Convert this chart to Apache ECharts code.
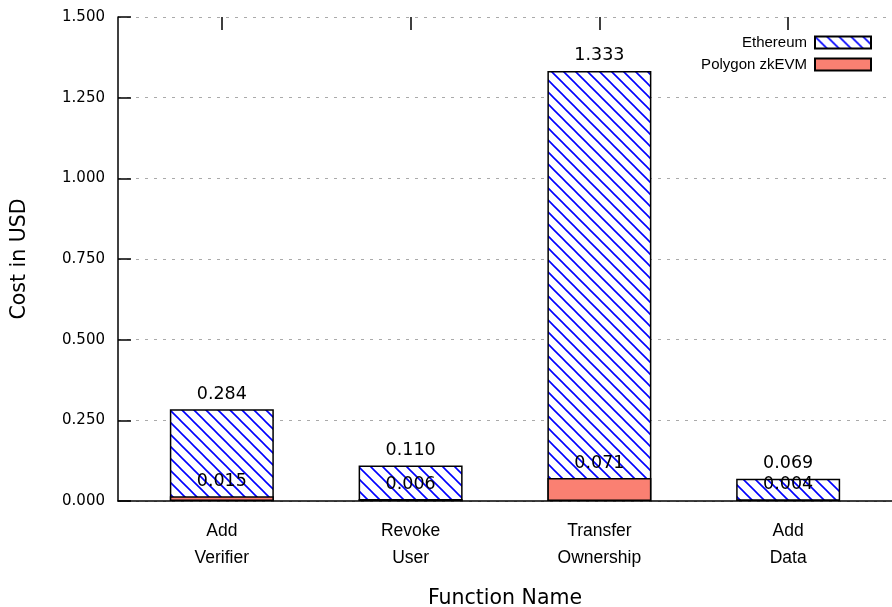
<!DOCTYPE html>
<html>
<head>
<meta charset="utf-8">
<script src="https://cdn.jsdelivr.net/npm/echarts@6/dist/echarts.min.js"></script>
<style>html,body{margin:0;padding:0;background:#fff}#c{width:892px;height:607px}</style>
</head>
<body>
<div id="c"></div>
<script>
const categories = ['Add\nVerifier', 'Revoke\nUser', 'Transfer\nOwnership', 'Add\nData'];
const ethereum = [0.284, 0.110, 1.333, 0.069];
const polygon = [0.015, 0.006, 0.071, 0.004];
const yTicks = [0, 0.25, 0.5, 0.75, 1.0, 1.25, 1.5];

function hatch() {
  const s = 12;
  const c = document.createElement('canvas');
  c.width = s; c.height = s;
  const g = c.getContext('2d');
  g.fillStyle = '#fff';
  g.fillRect(0, 0, s, s);
  g.strokeStyle = '#0000ff';
  g.lineWidth = 1.6;
  g.beginPath();
  for (let k = -1; k <= 1; k++) {
    g.moveTo(k * s - 1, -1);
    g.lineTo(k * s + s + 1, s + 1);
  }
  g.stroke();
  return c;
}
const pat = { image: hatch(), repeat: 'repeat' };

const idx = categories.map((_, i) => i);
const ethData = ethereum.map((v, i) => [idx[i], v]);
const polyData = polygon.map((v, i) => [idx[i], v]);

const chart = echarts.init(document.getElementById('c'), null, { renderer: 'canvas' });
chart.setOption({
  animation: false,
  backgroundColor: '#fff',
  grid: { left: 118, right: 0, top: 17, bottom: 106, outerBoundsMode: 'none', containLabel: false },
  legend: {
    orient: 'vertical', right: 15, top: 30, align: 'right',
    itemWidth: 56, itemHeight: 12, itemGap: 7,
    icon: 'rect',
    textStyle: { fontFamily: 'Liberation Sans', fontSize: 15, color: '#000', padding: [0, 3, 0, 0] },
    data: ['Ethereum', 'Polygon zkEVM']
  },
  xAxis: [{
    type: 'value', min: -0.55, max: 3.55, position: 'bottom',
    name: 'Function Name', nameLocation: 'middle', nameGap: 87,
    nameTextStyle: { fontFamily: 'DejaVu Sans', fontSize: 20.5, color: '#000' },
    axisLine: { show: true, onZero: false, lineStyle: { color: '#000', width: 1.5 } },
    axisTick: { show: false },
    splitLine: { show: false },
    axisLabel: {
      customValues: idx, margin: 17,
      fontFamily: 'Liberation Sans', fontSize: 17.5, lineHeight: 27, color: '#000',
      formatter: v => categories[Math.round(v)]
    }
  }, {
    type: 'value', min: -0.55, max: 3.55, position: 'top',
    axisLine: { show: false, onZero: false },
    axisTick: { show: true, inside: true, length: 13, customValues: idx, lineStyle: { color: '#000', width: 1.5 } },
    axisLabel: { show: false },
    splitLine: { show: false }
  }],
  yAxis: {
    type: 'value', min: 0, max: 1.5, interval: 0.25,
    name: 'Cost in USD', nameLocation: 'middle', nameGap: 88, nameRotate: 90,
    nameTextStyle: { fontFamily: 'DejaVu Sans', fontSize: 20.5, color: '#000' },
    axisLine: { show: true, onZero: false, lineStyle: { color: '#000', width: 1.5 } },
    axisTick: { show: true, inside: true, length: 13, lineStyle: { color: '#000', width: 1.5 } },
    axisLabel: {
      margin: 13, fontFamily: 'DejaVu Sans', fontSize: 15, color: '#000',
      formatter: v => v.toFixed(3)
    },
    splitLine: { show: true, lineStyle: { color: '#aaa', type: [3, 6], width: 1 } }
  },
  series: [{
    name: 'Ethereum', type: 'bar', data: ethData, barWidth: 104, barGap: '-100%',
    itemStyle: { color: pat, borderColor: '#000', borderWidth: 1.5 },
    label: { show: true, position: 'top', distance: 6, fontFamily: 'DejaVu Sans', fontSize: 17.5, color: '#000',
      formatter: p => p.value[1].toFixed(3) }
  }, {
    name: 'Polygon zkEVM', type: 'bar', data: polyData, barWidth: 104, barGap: '-100%',
    itemStyle: { color: '#fa8072', borderColor: '#000', borderWidth: 1.5 },
    label: { show: true, position: 'top', distance: 6, fontFamily: 'DejaVu Sans', fontSize: 17.5, color: '#000',
      formatter: p => p.value[1].toFixed(3) }
  }]
});
</script>
</body>
</html>
